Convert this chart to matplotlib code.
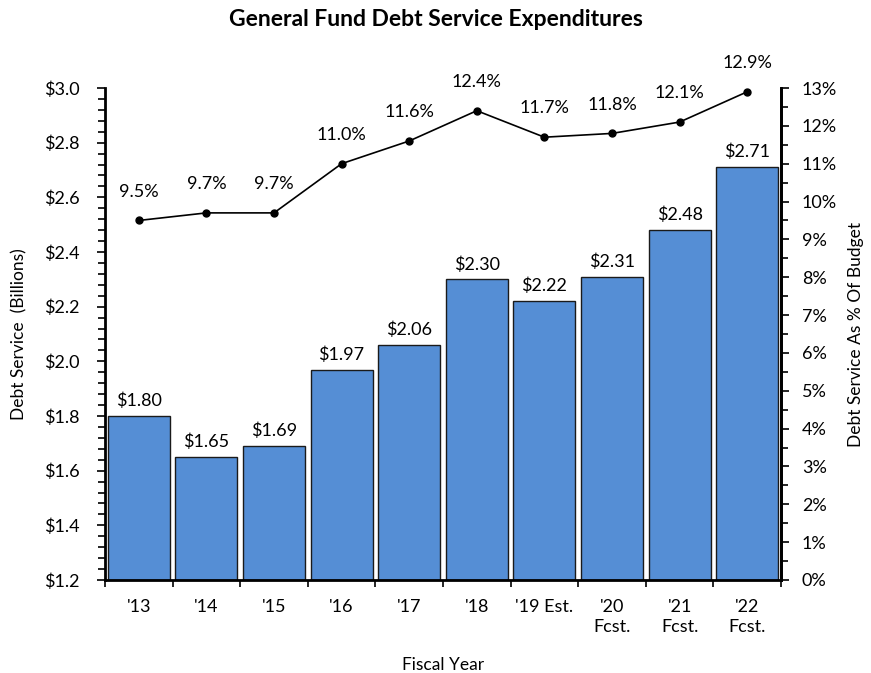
import matplotlib
matplotlib.use("Agg")
import matplotlib.pyplot as plt
from matplotlib.ticker import MultipleLocator, FuncFormatter
import numpy as np

plt.rcParams['font.family'] = ['Lato', 'DejaVu Sans']

categories = ["'13", "'14", "'15", "'16", "'17", "'18", "'19 Est.", "'20\nFcst.", "'21\nFcst.", "'22\nFcst."]
debt_service = [1.80, 1.65, 1.69, 1.97, 2.06, 2.30, 2.22, 2.31, 2.48, 2.71]
pct_budget = [9.5, 9.7, 9.7, 11.0, 11.6, 12.4, 11.7, 11.8, 12.1, 12.9]

fs = 13
fig = plt.figure(figsize=(8.71, 6.73), dpi=100)
ax = fig.add_axes([105/871, 1-580/673, (781-105)/871, (580-88)/673])
x = np.arange(len(categories))

ax.bar(x, [v - 1.2 for v in debt_service], bottom=1.2, width=0.92,
       color='#558ED5', edgecolor='#1a1a1a', linewidth=1.0, zorder=2)
for xi, v in zip(x, debt_service):
    ax.text(xi, v + 0.025, f"${v:.2f}", ha='center', va='bottom', fontsize=fs)

ax.set_xlim(-0.5, len(categories) - 0.5)
ax.set_ylim(1.2, 3.0)
ax.yaxis.set_major_locator(MultipleLocator(0.2))
ax.yaxis.set_minor_locator(MultipleLocator(0.04))
ax.yaxis.set_major_formatter(FuncFormatter(lambda v, p: f"${v:.1f}"))
ax.set_xticks(x)
ax.set_xticklabels(categories, fontsize=fs, linespacing=1.25)
ax.set_xticks(np.arange(-0.5, len(categories)), minor=True)
ax.tick_params(axis='x', which='major', length=0, pad=14)
ax.tick_params(axis='x', which='minor', length=5, width=1.2, direction='out')
ax.tick_params(axis='y', which='major', length=6, width=1.2, direction='out', labelsize=fs, pad=12)
ax.tick_params(axis='y', which='minor', length=5, width=1.2, direction='out')
ax.spines['top'].set_visible(False)
for s in ['left', 'bottom', 'right']:
    ax.spines[s].set_linewidth(2)
ax.set_ylabel("Debt Service  (Billions)", fontsize=12.5, labelpad=12)
ax.set_xlabel("Fiscal Year", fontsize=12.5, labelpad=16)

ax2 = ax.twinx()
ax2.set_ylim(0, 13)
ax2.plot(x, pct_budget, color='black', linewidth=1.2, marker='o', markersize=5, zorder=3)
for xi, v in zip(x, pct_budget):
    ax2.text(xi, v + 0.55, f"{v:.1f}%", ha='center', va='bottom', fontsize=fs)
ax2.yaxis.set_major_locator(MultipleLocator(1))
ax2.yaxis.set_minor_locator(MultipleLocator(0.5))
ax2.yaxis.set_major_formatter(FuncFormatter(lambda v, p: f"{int(round(v))}%"))
ax2.tick_params(axis='y', which='major', length=6, width=1.2, direction='out', labelsize=fs, pad=9)
ax2.tick_params(axis='y', which='minor', length=5, width=1.2, direction='out')
ax2.spines['top'].set_visible(False)
ax2.spines['left'].set_visible(False)
ax2.spines['bottom'].set_visible(False)
ax2.spines['right'].set_linewidth(2)
ax2.set_ylabel("Debt Service As % Of Budget", fontsize=12.5, labelpad=8)

fig.text(0.5, 1 - 20/673, "General Fund Debt Service Expenditures", ha='center', va='center',
         fontsize=16.5, fontweight='bold')

fig.savefig("out.png", dpi=100)
